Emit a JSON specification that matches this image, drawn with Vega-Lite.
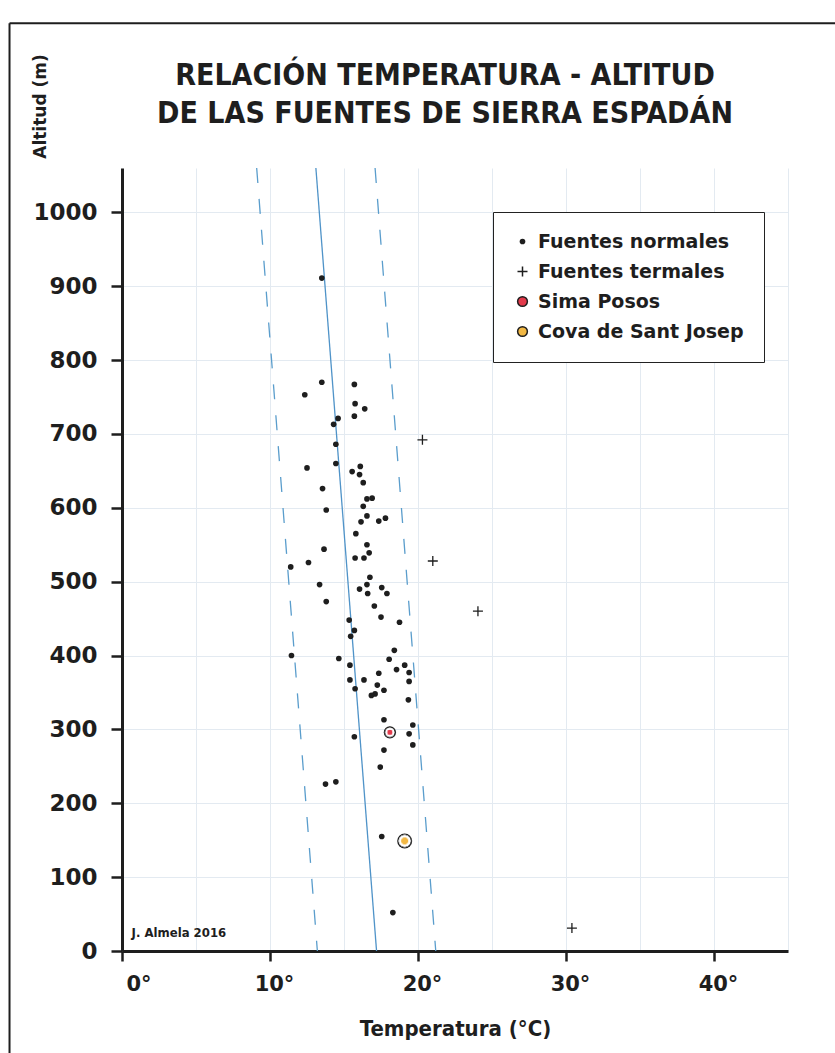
{
  "$schema": "https://vega.github.io/schema/vega-lite/v6.json",
  "width": 666,
  "height": 783,
  "autosize": "none",
  "padding": {"left": 122, "top": 168, "right": 47, "bottom": 102},
  "background": "white",
  "title": {
    "text": ["RELACIÓN TEMPERATURA - ALTITUD", "DE LAS FUENTES DE SIERRA ESPADÁN"],
    "font": "DejaVu Sans Condensed",
    "fontSize": 30,
    "fontWeight": "bold",
    "color": "#1e1e1e",
    "lineHeight": 38,
    "anchor": "middle",
    "offset": 32,
    "dx": -10,
    "dy": 139
  },
  "datasets": {
    "fuentes": [
      {"t": 13.5, "alt": 911, "tipo": "Fuentes normales"},
      {"t": 13.5, "alt": 770, "tipo": "Fuentes normales"},
      {"t": 12.35, "alt": 753, "tipo": "Fuentes normales"},
      {"t": 15.7, "alt": 767, "tipo": "Fuentes normales"},
      {"t": 15.75, "alt": 741, "tipo": "Fuentes normales"},
      {"t": 16.4, "alt": 734, "tipo": "Fuentes normales"},
      {"t": 15.7, "alt": 724, "tipo": "Fuentes normales"},
      {"t": 14.6, "alt": 721, "tipo": "Fuentes normales"},
      {"t": 14.3, "alt": 713, "tipo": "Fuentes normales"},
      {"t": 14.45, "alt": 686, "tipo": "Fuentes normales"},
      {"t": 14.45, "alt": 660, "tipo": "Fuentes normales"},
      {"t": 12.5, "alt": 654, "tipo": "Fuentes normales"},
      {"t": 15.55, "alt": 649, "tipo": "Fuentes normales"},
      {"t": 16.1, "alt": 656, "tipo": "Fuentes normales"},
      {"t": 16.05, "alt": 645, "tipo": "Fuentes normales"},
      {"t": 16.3, "alt": 634, "tipo": "Fuentes normales"},
      {"t": 13.55, "alt": 626, "tipo": "Fuentes normales"},
      {"t": 16.55, "alt": 612, "tipo": "Fuentes normales"},
      {"t": 16.9, "alt": 613, "tipo": "Fuentes normales"},
      {"t": 16.3, "alt": 602, "tipo": "Fuentes normales"},
      {"t": 13.8, "alt": 597, "tipo": "Fuentes normales"},
      {"t": 16.55, "alt": 589, "tipo": "Fuentes normales"},
      {"t": 16.15, "alt": 581, "tipo": "Fuentes normales"},
      {"t": 17.35, "alt": 582, "tipo": "Fuentes normales"},
      {"t": 17.8, "alt": 586, "tipo": "Fuentes normales"},
      {"t": 15.8, "alt": 565, "tipo": "Fuentes normales"},
      {"t": 16.55, "alt": 550, "tipo": "Fuentes normales"},
      {"t": 13.65, "alt": 544, "tipo": "Fuentes normales"},
      {"t": 16.7, "alt": 539, "tipo": "Fuentes normales"},
      {"t": 15.75, "alt": 532, "tipo": "Fuentes normales"},
      {"t": 16.35, "alt": 532, "tipo": "Fuentes normales"},
      {"t": 12.6, "alt": 526, "tipo": "Fuentes normales"},
      {"t": 11.4, "alt": 520, "tipo": "Fuentes normales"},
      {"t": 16.75, "alt": 506, "tipo": "Fuentes normales"},
      {"t": 13.35, "alt": 496, "tipo": "Fuentes normales"},
      {"t": 16.55, "alt": 496, "tipo": "Fuentes normales"},
      {"t": 16.05, "alt": 490, "tipo": "Fuentes normales"},
      {"t": 17.55, "alt": 492, "tipo": "Fuentes normales"},
      {"t": 16.6, "alt": 484, "tipo": "Fuentes normales"},
      {"t": 17.9, "alt": 484, "tipo": "Fuentes normales"},
      {"t": 13.8, "alt": 473, "tipo": "Fuentes normales"},
      {"t": 17.05, "alt": 467, "tipo": "Fuentes normales"},
      {"t": 17.5, "alt": 452, "tipo": "Fuentes normales"},
      {"t": 15.35, "alt": 448, "tipo": "Fuentes normales"},
      {"t": 18.75, "alt": 445, "tipo": "Fuentes normales"},
      {"t": 15.7, "alt": 434, "tipo": "Fuentes normales"},
      {"t": 15.45, "alt": 426, "tipo": "Fuentes normales"},
      {"t": 11.45, "alt": 400, "tipo": "Fuentes normales"},
      {"t": 14.65, "alt": 396, "tipo": "Fuentes normales"},
      {"t": 18.4, "alt": 407, "tipo": "Fuentes normales"},
      {"t": 18.05, "alt": 395, "tipo": "Fuentes normales"},
      {"t": 15.4, "alt": 387, "tipo": "Fuentes normales"},
      {"t": 19.1, "alt": 387, "tipo": "Fuentes normales"},
      {"t": 18.55, "alt": 381, "tipo": "Fuentes normales"},
      {"t": 17.35, "alt": 376, "tipo": "Fuentes normales"},
      {"t": 19.4, "alt": 377, "tipo": "Fuentes normales"},
      {"t": 15.4, "alt": 367, "tipo": "Fuentes normales"},
      {"t": 16.35, "alt": 367, "tipo": "Fuentes normales"},
      {"t": 19.4, "alt": 365, "tipo": "Fuentes normales"},
      {"t": 17.25, "alt": 360, "tipo": "Fuentes normales"},
      {"t": 15.75, "alt": 355, "tipo": "Fuentes normales"},
      {"t": 17.7, "alt": 353, "tipo": "Fuentes normales"},
      {"t": 17.1, "alt": 348, "tipo": "Fuentes normales"},
      {"t": 16.85, "alt": 346, "tipo": "Fuentes normales"},
      {"t": 19.35, "alt": 340, "tipo": "Fuentes normales"},
      {"t": 17.7, "alt": 313, "tipo": "Fuentes normales"},
      {"t": 19.65, "alt": 306, "tipo": "Fuentes normales"},
      {"t": 15.7, "alt": 290, "tipo": "Fuentes normales"},
      {"t": 19.4, "alt": 294, "tipo": "Fuentes normales"},
      {"t": 19.65, "alt": 279, "tipo": "Fuentes normales"},
      {"t": 17.7, "alt": 272, "tipo": "Fuentes normales"},
      {"t": 17.45, "alt": 249, "tipo": "Fuentes normales"},
      {"t": 13.75, "alt": 226, "tipo": "Fuentes normales"},
      {"t": 14.45, "alt": 229, "tipo": "Fuentes normales"},
      {"t": 17.55, "alt": 155, "tipo": "Fuentes normales"},
      {"t": 18.3, "alt": 52, "tipo": "Fuentes normales"},
      {"t": 20.3, "alt": 692, "tipo": "Fuentes termales"},
      {"t": 21.0, "alt": 528, "tipo": "Fuentes termales"},
      {"t": 24.05, "alt": 460, "tipo": "Fuentes termales"},
      {"t": 30.4, "alt": 31, "tipo": "Fuentes termales"},
      {"t": 18.1, "alt": 296, "tipo": "Sima Posos"},
      {"t": 19.1, "alt": 149, "tipo": "Cova de Sant Josep"}
    ],
    "rectas": [
      {"recta": "central", "t": 17.2, "alt": 0},
      {"recta": "central", "t": 13.1, "alt": 1060},
      {"recta": "inferior", "t": 13.2, "alt": 0},
      {"recta": "inferior", "t": 9.1, "alt": 1060},
      {"recta": "superior", "t": 21.2, "alt": 0},
      {"recta": "superior", "t": 17.1, "alt": 1060}
    ]
  },
  "layer": [
    {
      "data": {"name": "rectas"},
      "transform": [{"filter": "datum.recta === 'central'"}],
      "mark": {"type": "line", "color": "#4f93c8", "strokeWidth": 1.3},
      "encoding": {
        "x": {
          "field": "t",
          "type": "quantitative",
          "scale": {"domain": [0, 45], "nice": false, "zero": false},
          "axis": {
            "values": [0, 5, 10, 15, 20, 25, 30, 35, 40, 45],
            "labelExpr": "datum.value % 10 === 0 ? datum.value + '°' : ''",
            "title": "Temperatura (°C)",
            "titleFont": "DejaVu Sans Condensed",
            "titleFontSize": 22,
            "titleFontWeight": "bold",
            "titleColor": "#1e1e1e",
            "titlePadding": 24,
            "labelFont": "DejaVu Sans",
            "labelFontWeight": "bold",
            "labelFontSize": 21,
            "labelColor": "#1e1e1e",
            "labelPadding": 12,
            "labelOffset": 4,
            "labelOverlap": false,
            "tickColor": {"condition": {"test": "datum.value % 10 !== 0", "value": "transparent"}, "value": "#1e1e1e"},
            "tickSize": 10,
            "tickWidth": 2.5,
            "domainColor": "#1e1e1e",
            "domainWidth": 3,
            "grid": true,
            "gridColor": "#e3eaf1",
            "gridWidth": 1
          }
        },
        "y": {
          "field": "alt",
          "type": "quantitative",
          "scale": {"domain": [0, 1060], "nice": false, "zero": false},
          "axis": {
            "values": [0, 100, 200, 300, 400, 500, 600, 700, 800, 900, 1000],
            "format": "d",
            "title": "Altitud (m)",
            "titleFont": "DejaVu Sans",
            "titleFontSize": 17,
            "titleFontWeight": "bold",
            "titleColor": "#1e1e1e",
            "titleAngle": 270,
            "titleAlign": "center",
            "titleBaseline": "middle",
            "titleX": -82,
            "titleY": -62,
            "labelFont": "DejaVu Sans",
            "labelFontWeight": "bold",
            "labelFontSize": 23,
            "labelColor": "#1e1e1e",
            "labelPadding": 14,
            "tickColor": "#1e1e1e",
            "tickSize": 11,
            "tickWidth": 2.5,
            "domainColor": "#1e1e1e",
            "domainWidth": 3,
            "grid": true,
            "gridColor": "#e3eaf1",
            "gridWidth": 1
          }
        }
      }
    },
    {
      "data": {"name": "rectas"},
      "transform": [{"filter": "datum.recta !== 'central'"}],
      "mark": {"type": "line", "color": "#5a9dcc", "strokeWidth": 1.3, "strokeDash": [15, 16]},
      "encoding": {
        "x": {"field": "t", "type": "quantitative"},
        "y": {"field": "alt", "type": "quantitative"},
        "detail": {"field": "recta"}
      }
    },
    {
      "data": {"name": "fuentes"},
      "mark": {"type": "point", "opacity": 1, "strokeWidth": 1.3},
      "encoding": {
        "x": {"field": "t", "type": "quantitative"},
        "y": {"field": "alt", "type": "quantitative"},
        "shape": {
          "field": "tipo",
          "type": "nominal",
          "scale": {
            "domain": ["Fuentes normales", "Fuentes termales", "Sima Posos", "Cova de Sant Josep"],
            "range": ["circle", "M-1,0H1M0,-1V1", "circle", "circle"]
          }
        },
        "fill": {
          "field": "tipo",
          "type": "nominal",
          "scale": {
            "domain": ["Fuentes normales", "Fuentes termales", "Sima Posos", "Cova de Sant Josep"],
            "range": ["#1e1e1e", "transparent", "#e23a4b", "#f2b844"]
          },
          "legend": {
            "title": null,
            "orient": "none",
            "legendX": 371,
            "legendY": 44,
            "padding": 20,
            "strokeColor": "#222222",
            "fillColor": "white",
            "labelFont": "DejaVu Sans",
            "labelFontWeight": "bold",
            "labelFontSize": 19,
            "labelColor": "#1e1e1e",
            "labelOffset": 6,
            "rowPadding": 10,
            "labelLimit": 400
          }
        },
        "stroke": {
          "field": "tipo",
          "type": "nominal",
          "scale": {
            "domain": ["Fuentes normales", "Fuentes termales", "Sima Posos", "Cova de Sant Josep"],
            "range": ["transparent", "#1e1e1e", "#1e1e1e", "#1e1e1e"]
          }
        },
        "size": {
          "field": "tipo",
          "type": "nominal",
          "scale": {
            "type": "ordinal",
            "domain": ["Fuentes normales", "Fuentes termales", "Sima Posos", "Cova de Sant Josep"],
            "range": [32, 100, 95, 95]
          }
        }
      }
    },
    {
      "data": {"name": "fuentes"},
      "transform": [{"filter": "datum.tipo === 'Sima Posos'"}],
      "mark": {
        "type": "circle",
        "size": 150,
        "opacity": 1,
        "fill": {"gradient": "radial", "x1": 0.5, "y1": 0.5, "r1": 0, "x2": 0.5, "y2": 0.5, "r2": 0.5, "stops": [{"offset": 0, "color": "#e23a4b"}, {"offset": 0.42, "color": "#e23a4b"}, {"offset": 0.47, "color": "white"}, {"offset": 0.75, "color": "white"}, {"offset": 0.8, "color": "#1e1e1e"}, {"offset": 1, "color": "#1e1e1e"}]}
      },
      "encoding": {
        "x": {"field": "t", "type": "quantitative"},
        "y": {"field": "alt", "type": "quantitative"}
      }
    },
    {
      "data": {"name": "fuentes"},
      "transform": [{"filter": "datum.tipo === 'Cova de Sant Josep'"}],
      "mark": {
        "type": "circle",
        "size": 225,
        "opacity": 1,
        "fill": {"gradient": "radial", "x1": 0.5, "y1": 0.5, "r1": 0, "x2": 0.5, "y2": 0.5, "r2": 0.5, "stops": [{"offset": 0, "color": "#f2b844"}, {"offset": 0.45, "color": "#f2b844"}, {"offset": 0.5, "color": "white"}, {"offset": 0.79, "color": "white"}, {"offset": 0.84, "color": "#1e1e1e"}, {"offset": 1, "color": "#1e1e1e"}]}
      },
      "encoding": {
        "x": {"field": "t", "type": "quantitative"},
        "y": {"field": "alt", "type": "quantitative"}
      }
    },
    {
      "data": {"values": [{"n": 1}]},
      "mark": {"type": "rule", "color": "#1e1e1e", "strokeWidth": 2},
      "encoding": {
        "x": {"datum": -7.6, "type": "quantitative"},
        "y": {"datum": 1256, "type": "quantitative"},
        "y2": {"datum": -160}
      }
    },
    {
      "data": {"values": [{"n": 1}]},
      "mark": {"type": "rule", "color": "#1e1e1e", "strokeWidth": 2},
      "encoding": {
        "x": {"datum": -7.6, "type": "quantitative"},
        "x2": {"datum": 52},
        "y": {"datum": 1256, "type": "quantitative"}
      }
    },
    {
      "data": {"values": [{"n": 1}]},
      "mark": {
        "type": "text",
        "text": "J. Almela 2016",
        "font": "DejaVu Sans Condensed",
        "fontSize": 13,
        "fontWeight": "bold",
        "color": "#1e1e1e",
        "align": "left",
        "baseline": "middle"
      },
      "encoding": {
        "x": {"datum": 0.65, "type": "quantitative"},
        "y": {"datum": 25, "type": "quantitative"}
      }
    }
  ],
  "config": {
    "view": {"stroke": null}
  }
}
